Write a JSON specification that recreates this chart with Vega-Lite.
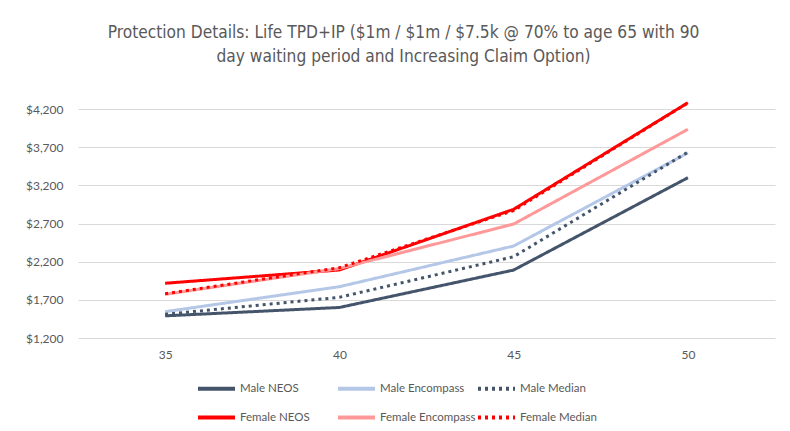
{
  "$schema": "https://vega.github.io/schema/vega-lite/v6.json",
  "autosize": {"type": "none"},
  "width": 697,
  "height": 229,
  "padding": {"left": 78, "top": 109, "right": 15, "bottom": 93},
  "background": "white",
  "title": {
    "text": ["Protection Details: Life TPD+IP ($1m / $1m / $7.5k @ 70% to age 65 with 90", "day waiting period and Increasing Claim Option)"],
    "font": "DejaVu Sans Condensed",
    "fontSize": 17.2,
    "fontWeight": "normal",
    "color": "#595959",
    "lineHeight": 24,
    "anchor": "middle",
    "dx": -23,
    "offset": 32
  },
  "data": {
    "values": [
      {"series": "Male NEOS", "age": 35, "premium": 1490},
      {"series": "Male NEOS", "age": 40, "premium": 1600},
      {"series": "Male NEOS", "age": 45, "premium": 2090},
      {"series": "Male NEOS", "age": 50, "premium": 3300},
      {"series": "Male Encompass", "age": 35, "premium": 1545},
      {"series": "Male Encompass", "age": 40, "premium": 1872},
      {"series": "Male Encompass", "age": 45, "premium": 2405},
      {"series": "Male Encompass", "age": 50, "premium": 3625},
      {"series": "Male Median", "age": 35, "premium": 1510},
      {"series": "Male Median", "age": 40, "premium": 1733},
      {"series": "Male Median", "age": 45, "premium": 2265},
      {"series": "Male Median", "age": 50, "premium": 3635},
      {"series": "Female NEOS", "age": 35, "premium": 1917},
      {"series": "Female NEOS", "age": 40, "premium": 2091},
      {"series": "Female NEOS", "age": 45, "premium": 2886},
      {"series": "Female NEOS", "age": 50, "premium": 4282},
      {"series": "Female Encompass", "age": 35, "premium": 1772},
      {"series": "Female Encompass", "age": 40, "premium": 2110},
      {"series": "Female Encompass", "age": 45, "premium": 2693},
      {"series": "Female Encompass", "age": 50, "premium": 3934},
      {"series": "Female Median", "age": 35, "premium": 1780},
      {"series": "Female Median", "age": 40, "premium": 2121},
      {"series": "Female Median", "age": 45, "premium": 2870},
      {"series": "Female Median", "age": 50, "premium": 4280}
    ]
  },
  "mark": {"type": "line", "strokeWidth": 3, "clip": false},
  "encoding": {
    "x": {
      "field": "age",
      "type": "ordinal",
      "scale": {"type": "point", "padding": 0.5},
      "axis": {
        "title": null,
        "labelAngle": 0,
        "ticks": false,
        "domain": false,
        "grid": false,
        "labelPadding": 11,
        "labelFont": "Lato",
        "labelFontSize": 12,
        "labelColor": "#595959"
      }
    },
    "y": {
      "field": "premium",
      "type": "quantitative",
      "scale": {"domain": [1200, 4200], "nice": false, "zero": false},
      "axis": {
        "title": null,
        "values": [1200, 1700, 2200, 2700, 3200, 3700, 4200],
        "format": "$,.0f",
        "ticks": false,
        "domain": false,
        "grid": true,
        "gridColor": "#D9D9D9",
        "gridWidth": 1,
        "labelPadding": 15,
        "labelFont": "Lato",
        "labelFontSize": 12,
        "labelColor": "#595959"
      }
    },
    "color": {
      "field": "series",
      "type": "nominal",
      "sort": null,
      "scale": {
        "domain": ["Male NEOS", "Male Encompass", "Male Median", "Female NEOS", "Female Encompass", "Female Median"],
        "range": ["#44546A", "#B4C7E7", "#44546A", "#FF0000", "#FF9999", "#FF0000"]
      },
      "legend": {
        "title": null,
        "orient": "none",
        "legendX": 118,
        "legendY": 259,
        "direction": "horizontal",
        "columns": 3,
        "gridAlign": "all",
        "columnPadding": -6,
        "rowPadding": -6,
        "symbolType": "stroke",
        "symbolSize": 1369,
        "symbolStrokeWidth": 4,
        "labelOffset": 3,
        "labelFont": "Lato",
        "labelFontSize": 11.5,
        "labelColor": "#595959"
      }
    },
    "strokeDash": {
      "field": "series",
      "type": "nominal",
      "sort": null,
      "scale": {
        "domain": ["Male NEOS", "Male Encompass", "Male Median", "Female NEOS", "Female Encompass", "Female Median"],
        "range": [[1, 0], [1, 0], [3, 4], [1, 0], [1, 0], [3, 4]]
      },
      "legend": {
        "title": null,
        "orient": "none",
        "legendX": 118,
        "legendY": 259,
        "direction": "horizontal",
        "columns": 3,
        "gridAlign": "all",
        "columnPadding": -6,
        "rowPadding": -6,
        "symbolType": "stroke",
        "symbolSize": 1369,
        "symbolStrokeWidth": 4,
        "labelOffset": 3,
        "labelFont": "Lato",
        "labelFontSize": 11.5,
        "labelColor": "#595959"
      }
    }
  },
  "config": {
    "view": {"stroke": null}
  }
}
